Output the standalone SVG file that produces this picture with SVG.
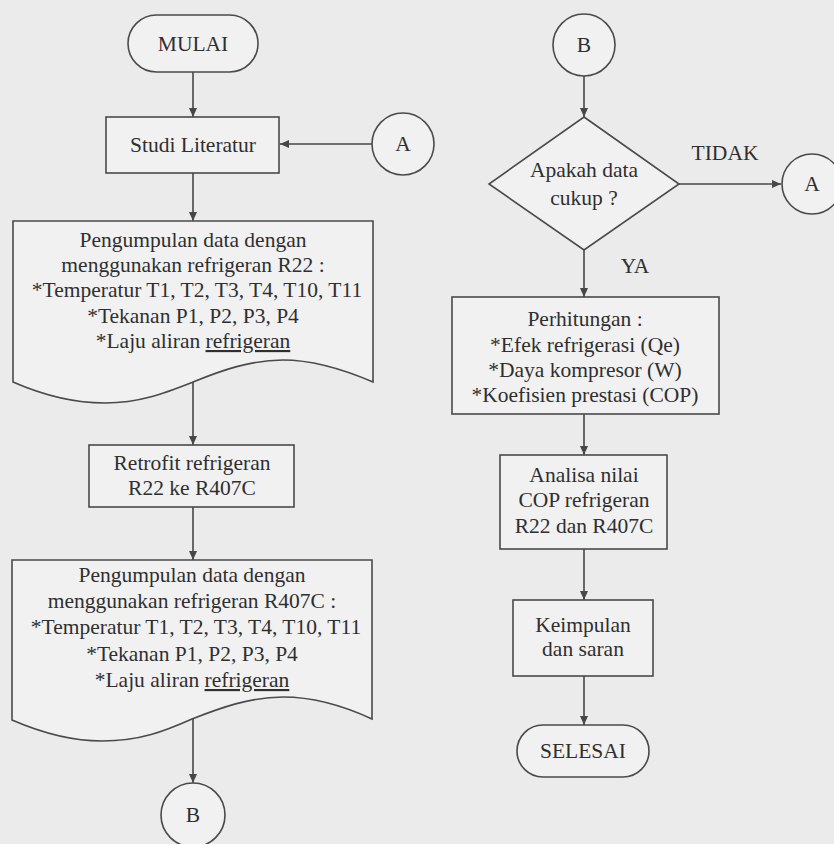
<svg xmlns="http://www.w3.org/2000/svg" width="834" height="844" viewBox="0 0 834 844">
<defs>
<marker id="ah" markerUnits="userSpaceOnUse" markerWidth="9" markerHeight="8" refX="9" refY="4" orient="auto">
<path d="M0,0 L9,4 L0,8 z" fill="#474747"/>
</marker>
<style>
.shape{fill:#f1f1f1;stroke:#4a4a4a;stroke-width:1.6}
.t{font-family:"Liberation Serif","Times New Roman",serif;font-size:21.5px;fill:#2f2f2f;text-anchor:middle}
.c{stroke:#474747;stroke-width:1.6;fill:none;marker-end:url(#ah)}
</style>
</defs>
<rect x="0" y="0" width="834" height="844" fill="#ebebeb"/>

<g id="connectors">
<line class="c" x1="193" y1="72" x2="193" y2="117"/>
<line class="c" x1="372" y1="144" x2="280" y2="144"/>
<line class="c" x1="193" y1="173" x2="193" y2="221"/>
<line class="c" x1="193" y1="382" x2="193" y2="445"/>
<line class="c" x1="193" y1="507" x2="193" y2="560"/>
<line class="c" x1="193" y1="719" x2="193" y2="783"/>
<line class="c" x1="584" y1="76" x2="584" y2="117"/>
<line class="c" x1="679" y1="184" x2="781" y2="184"/>
<line class="c" x1="584" y1="250" x2="584" y2="297"/>
<line class="c" x1="584" y1="414" x2="584" y2="455"/>
<line class="c" x1="584" y1="549" x2="584" y2="600"/>
<line class="c" x1="584" y1="676" x2="584" y2="725"/>
<text class="t" x="725" y="160">TIDAK</text>
<text class="t" x="635" y="273">YA</text>
</g>

<g id="mulai">
<rect class="shape" x="128" y="15" width="130" height="57" rx="28.5"/>
<text class="t" x="193" y="51">MULAI</text>
</g>

<g id="studi">
<rect class="shape" x="106" y="117" width="173" height="56"/>
<text class="t" x="193" y="152">Studi Literatur</text>
</g>

<g id="conA1">
<circle class="shape" cx="403" cy="144" r="31"/>
<text class="t" x="403" y="151">A</text>
</g>

<g id="data1">
<path class="shape" d="M13,221 H373 V382 C345,370 313,360 283,360 C250,360 220,371 193,382 C165,393 140,403 105,403 C75,403 45,396 13,382 Z"/>
<text class="t" x="193" y="247">Pengumpulan data dengan</text>
<text class="t" x="193" y="272">menggunakan refrigeran R22 :</text>
<text class="t" x="197" y="297">*Temperatur T1, T2, T3, T4, T10, T11</text>
<text class="t" x="193" y="323">*Tekanan P1, P2, P3, P4</text>
<text class="t" x="193" y="348">*Laju aliran <tspan text-decoration="underline">refrigeran</tspan></text>
</g>

<g id="retrofit">
<rect class="shape" x="89" y="445" width="205" height="62"/>
<text class="t" x="192" y="470">Retrofit refrigeran</text>
<text class="t" x="192" y="495">R22 ke R407C</text>
</g>

<g id="data2">
<path class="shape" d="M12,560 H372 V719 C344,706 313,697 283,697 C250,697 220,708 192,719 C165,731 140,741 102,741 C72,741 42,733 12,720 Z"/>
<text class="t" x="192" y="582">Pengumpulan data dengan</text>
<text class="t" x="192" y="608">menggunakan refrigeran R407C :</text>
<text class="t" x="196" y="634">*Temperatur T1, T2, T3, T4, T10, T11</text>
<text class="t" x="192" y="661">*Tekanan P1, P2, P3, P4</text>
<text class="t" x="192" y="687">*Laju aliran <tspan text-decoration="underline">refrigeran</tspan></text>
</g>

<g id="conB1">
<circle class="shape" cx="193" cy="815" r="32"/>
<text class="t" x="193" y="822">B</text>
</g>

<g id="conB2">
<circle class="shape" cx="584" cy="45" r="31"/>
<text class="t" x="584" y="52">B</text>
</g>

<g id="decision">
<polygon class="shape" points="584,117 679,184 584,250 489,184"/>
<text class="t" x="584" y="177">Apakah data</text>
<text class="t" x="584" y="205">cukup ?</text>
</g>

<g id="conA2">
<circle class="shape" cx="812" cy="184" r="30"/>
<text class="t" x="812" y="191">A</text>
</g>

<g id="perhitungan">
<rect class="shape" x="452" y="297" width="267" height="117"/>
<text class="t" x="585" y="326">Perhitungan :</text>
<text class="t" x="585" y="352">*Efek refrigerasi (Qe)</text>
<text class="t" x="585" y="377">*Daya kompresor (W)</text>
<text class="t" x="585" y="402">*Koefisien prestasi (COP)</text>
</g>

<g id="analisa">
<rect class="shape" x="500" y="455" width="167" height="94"/>
<text class="t" x="584" y="482">Analisa nilai</text>
<text class="t" x="584" y="507">COP refrigeran</text>
<text class="t" x="584" y="533">R22 dan R407C</text>
</g>

<g id="kesimpulan">
<rect class="shape" x="513" y="600" width="140" height="76"/>
<text class="t" x="583" y="632">Keimpulan</text>
<text class="t" x="583" y="656">dan saran</text>
</g>

<g id="selesai">
<rect class="shape" x="517" y="725" width="132" height="52" rx="26"/>
<text class="t" x="583" y="758">SELESAI</text>
</g>
</svg>
